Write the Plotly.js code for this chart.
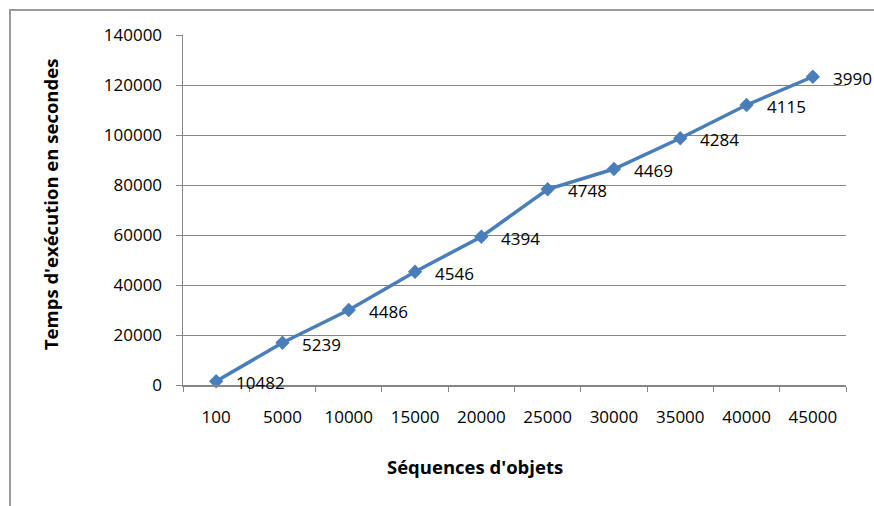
<!DOCTYPE html>
<html>
<head>
<meta charset="utf-8">
<script src="https://cdn.plot.ly/plotly-3.0.1.min.js"></script>
<style>
html,body{margin:0;padding:0;width:874px;height:506px;overflow:hidden;background:#fff;}
#frame{position:absolute;left:9px;top:9px;width:1000px;height:700px;border-left:2px solid #9a9a9a;border-top:2px solid #9a9a9a;box-sizing:border-box;pointer-events:none;z-index:5;}
#chart{position:absolute;left:0;top:0;width:874px;height:506px;}
</style>
</head>
<body>
<div id="chart"></div>
<div id="frame"></div>
<script>
// Data
var categories = ["100","5000","10000","15000","20000","25000","30000","35000","40000","45000"];
var tempsExecution = [1500, 16900, 30000, 45300, 59300, 78300, 86400, 98700, 112000, 123300];
var pointLabels = ["10482","5239","4486","4546","4394","4748","4469","4284","4115","3990"];
var yTickValues = [0,20000,40000,60000,80000,100000,120000,140000];
var yTickLabels = ["0","20000","40000","60000","80000","100000","120000","140000"];

var FONT = "Open Sans, Lato, sans-serif";

var trace = {
  type: "scatter",
  mode: "lines+markers",
  x: categories,
  y: tempsExecution,
  line: {color: "#4A7EBB", width: 3.5},
  marker: {symbol: "diamond", size: 11, color: "#4A7EBB", line: {width: 0}},
  hoverinfo: "x+y",
  cliponaxis: false
};

var annotations = categories.map(function(c, i){
  return {
    x: i, y: tempsExecution[i], xref: "x", yref: "y",
    text: pointLabels[i], showarrow: false,
    xanchor: "left", yanchor: "middle",
    xshift: 18, yshift: -1.5,
    font: {family: FONT, size: 17, color: "#000"}
  };
});

annotations.push({
  xref: "paper", yref: "paper", x: 0.4404, y: -0.234,
  text: "<b>Séquences d'objets</b>", showarrow: false,
  xanchor: "center", yanchor: "middle",
  font: {family: FONT, size: 18.5, color: "#000"}
});
annotations.push({
  xref: "paper", yref: "paper", x: -0.2006, y: 0.514,
  text: "<b>Temps d'exécution en secondes</b>", showarrow: false,
  textangle: -90,
  xanchor: "center", yanchor: "middle",
  font: {family: FONT, size: 18.5, color: "#000"}
});

var layout = {
  width: 874, height: 506,
  margin: {l: 183, r: 28, t: 35, b: 121, pad: 0},
  paper_bgcolor: "#fff", plot_bgcolor: "#fff",
  showlegend: false,
  font: {family: FONT, size: 17, color: "#000"},
  xaxis: {
    type: "category",
    range: [-0.5, 9.5],
    tickson: "boundaries",
    ticks: "outside", ticklen: 5, tickcolor: "#868686", tickwidth: 1,
    showgrid: false, zeroline: false,
    showline: true, linecolor: "#868686", linewidth: 2,
    ticklabelstandoff: 16,
    tickfont: {family: FONT, size: 17, color: "#000"},
    fixedrange: true
  },
  yaxis: {
    range: [0, 140000],
    tickvals: yTickValues, ticktext: yTickLabels,
    ticks: "outside", ticklen: 6, tickcolor: "#868686", tickwidth: 1,
    showgrid: true, gridcolor: "#868686", gridwidth: 1,
    zeroline: false,
    showline: true, linecolor: "#868686", linewidth: 1.5,
    ticklabelstandoff: 10,
    tickfont: {family: FONT, size: 17, color: "#000"},
    fixedrange: true
  },
  annotations: annotations
};

Plotly.newPlot("chart", [trace], layout, {displayModeBar: false, staticPlot: true});
</script>
</body>
</html>
